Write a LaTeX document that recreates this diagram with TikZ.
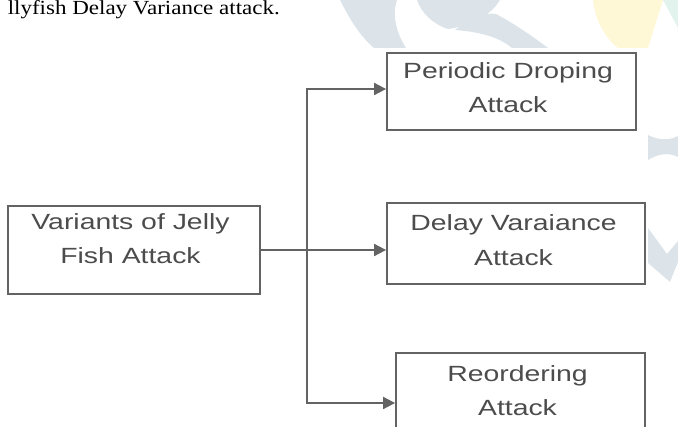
\documentclass[tikz,border=0pt]{standalone}
\usepackage{fontspec}
\usetikzlibrary{arrows.meta,calc}
\newfontfamily\diagfont[FakeStretch=1.29]{Liberation Sans}
\newfontfamily\bodyfont[FakeStretch=1.15]{Liberation Serif}
\definecolor{edge}{HTML}{636363}
\definecolor{ink}{HTML}{4C4C4C}
\definecolor{wmgray}{HTML}{DDE4E9}
\definecolor{wmyellow}{HTML}{FFF8D6}
\definecolor{wmteal}{HTML}{E2F2EC}
\tikzset{
  box/.style={draw=edge, line width=1.8pt, rectangle, inner sep=0pt},
  lbl/.style={text=ink, align=center, inner sep=0pt,
              font=\diagfont\fontsize{22}{34.5}\selectfont},
  conn/.style={draw=edge, line width=1.8pt},
  arr/.style={conn, -{Triangle[length=12pt,width=12pt]}},
}
\begin{document}
\begin{tikzpicture}[x=1pt,y=-1pt]
\useasboundingbox (0,0) rectangle (678,427);
\clip (0,0) rectangle (678,427);

% faint page watermark behind the figure
\fill[wmgray] (340,0) .. controls (350,20) and (360,36) .. (374,48)
  -- (406,48) .. controls (396,32) and (392,15) .. (397,0) -- cycle;
\fill[wmgray] (417,0) -- (500,0) .. controls (492,14) and (472,26) .. (448,29)
  .. controls (432,24) and (421,12) .. cycle;
\fill[wmgray] (455,30) .. controls (470,18) and (485,12) .. (496,14)
  .. controls (515,24) and (535,38) .. (548,48) -- (512,48)
  .. controls (500,38) and (482,32) .. cycle;
\fill[wmyellow] (593,0) .. controls (595,20) and (605,38) .. (618,48)
  -- (648,48) -- (663,0) -- cycle;
\fill[wmteal] (663,0) -- (678,0) -- (678,28) -- cycle;
\fill[wmgray] (648,135) .. controls (658,140) and (668,141) .. (678,136)
  -- (678,157) .. controls (668,152) and (658,154) .. (648,160) -- cycle;
\fill[wmgray] (648,228) -- (667,254) -- (678,241) -- (678,262)
  -- (670,282) -- (648,263) -- cycle;

% caption line above the figure
\node[anchor=base east, inner sep=0pt, font=\bodyfont\fontsize{20}{22}\selectfont]
  (cap) at (280,15) {llyfish Delay Variance attack.};

% boxes
\node[box, minimum width=252pt, minimum height=88pt] (src) at (134,250) {};
\node[box, minimum width=249pt, minimum height=77pt] (top) at (511.5,91.5) {};
\node[box, minimum width=258pt, minimum height=81pt] (mid) at (516,243.5) {};
\node[box, minimum width=249pt, minimum height=78pt] (bot) at (520.5,392) {};

% box texts
\node[lbl] (srct) at (130.5,238.5) {Variants of Jelly\\Fish Attack};
\node[lbl] (topt) at (508,87.5) {Periodic Droping\\Attack};
\node[lbl] (midt) at (513.5,240) {Delay Varaiance\\Attack};
\node[lbl] (bott) at (517.5,390.5) {Reordering\\Attack};

% connectors
\coordinate (j) at (307,250);
\draw[arr] (src.east) -- (src.east -| mid.west);
\draw[arr] (j) |- ([yshift=2.5pt]top.west);
\draw[arr] (j) |- ([yshift=-11pt]bot.west);
\end{tikzpicture}
\end{document}
